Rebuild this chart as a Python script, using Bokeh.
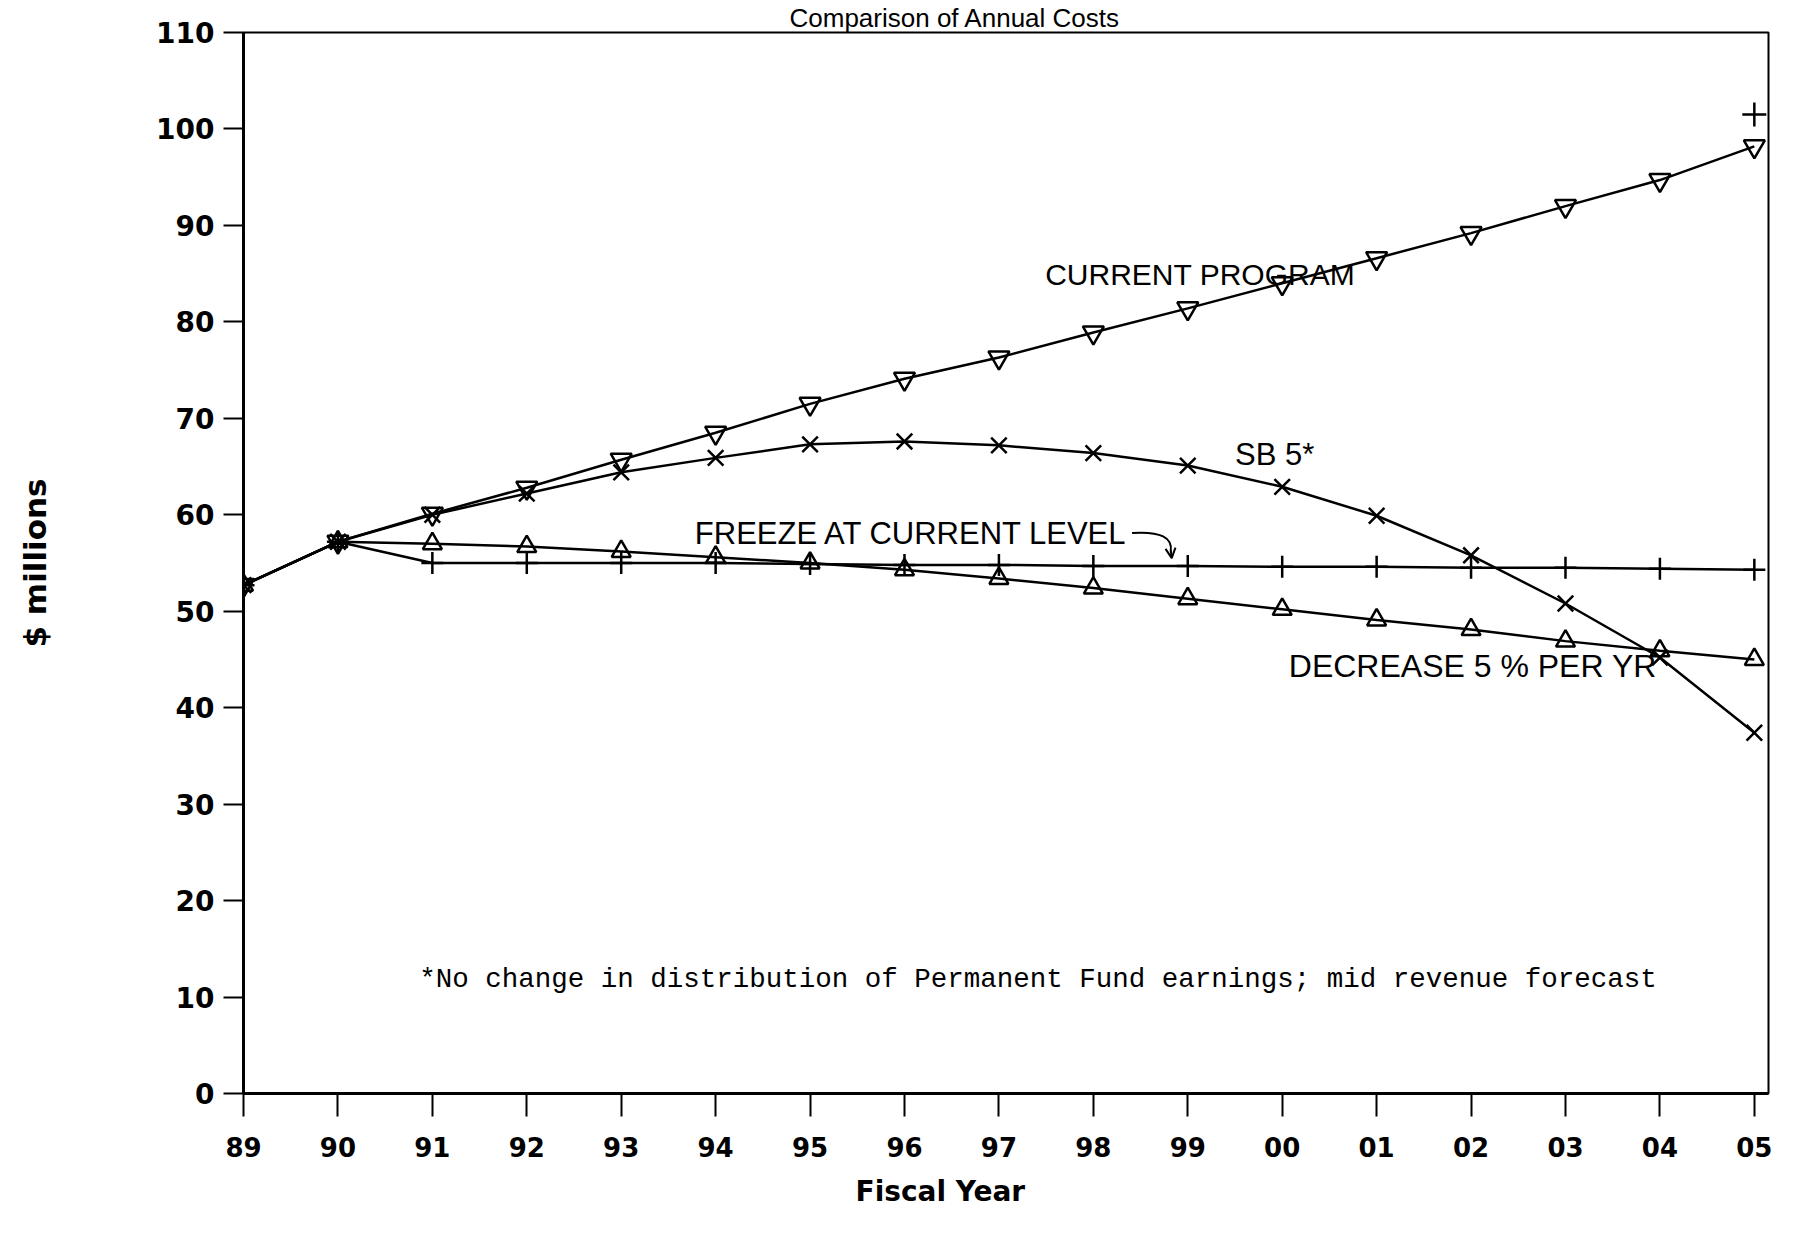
from bokeh.plotting import figure
from bokeh.models import Label, Arrow, OpenHead, FixedTicker, Range1d, Title
from bokeh.embed import file_html
from bokeh.resources import INLINE

# ---- data ----
years = list(range(1989, 2006))
year_labels = ["89", "90", "91", "92", "93", "94", "95", "96", "97", "98", "99",
               "00", "01", "02", "03", "04", "05"]
current_program = [52.7, 57.2, 60.1, 62.8, 65.7, 68.5, 71.5, 74.1, 76.3, 78.9, 81.4,
                   84.0, 86.6, 89.2, 92.0, 94.7, 98.2]
sb5 = [52.7, 57.2, 60.0, 62.2, 64.4, 65.9, 67.3, 67.6, 67.2, 66.4, 65.1,
       62.9, 59.9, 55.8, 50.8, 45.2, 37.4]
freeze = [52.7, 57.2, 55.0, 55.0, 55.0, 55.0, 54.9, 54.8, 54.8, 54.7, 54.7,
          54.6, 54.6, 54.5, 54.5, 54.4, 54.3]
decrease = [52.7, 57.2, 57.0, 56.7, 56.2, 55.6, 55.0, 54.3, 53.4, 52.4, 51.3,
            50.2, 49.1, 48.1, 46.9, 45.9, 45.0]
stray_x = [2005]
stray_y = [101.5]
y_ticks = list(range(0, 111, 10))

W, H = 1800, 1220
p = figure(width=W, height=H, output_backend="svg", toolbar_location=None,
           x_range=Range1d(1989, 2005.15), y_range=Range1d(0, 110),
           min_border_left=243, min_border_right=32, min_border_top=0,
           min_border_bottom=127)
p.background_fill_color = "white"
p.border_fill_color = "white"
p.outline_line_color = "black"
p.outline_line_width = 2
p.xgrid.visible = False
p.ygrid.visible = False

# chart title above the frame
p.title.text = "Comparison of Annual Costs"
p.title.align = "left"
p.title.offset = 546
p.title.text_font = "Liberation Sans"
p.title.text_font_size = "26px"
p.title.text_font_style = "normal"
p.title.text_color = "black"
p.title.standoff = 0

# axes
p.yaxis.ticker = FixedTicker(ticks=y_ticks)
p.xaxis.ticker = FixedTicker(ticks=years)
p.xaxis.major_label_overrides = {y: l for y, l in zip(years, year_labels)}
for ax in (p.xaxis, p.yaxis):
    ax.axis_line_width = 3
    ax.axis_line_color = "black"
    ax.major_tick_in = 0
    ax.minor_tick_line_color = None
    ax.major_tick_line_width = 2
    ax.major_label_text_font = "DejaVu Sans"
    ax.major_label_text_font_style = "bold"
    ax.major_label_text_color = "black"
    ax.axis_label_text_font = "DejaVu Sans"
    ax.axis_label_text_font_style = "bold"
    ax.axis_label_text_color = "black"
p.yaxis.major_label_text_font_size = "28px"
p.xaxis.major_label_text_font_size = "26px"
p.yaxis.major_tick_out = 20
p.yaxis.major_label_standoff = 9
p.yaxis.axis_label = "$ millions"
p.yaxis.axis_label_text_font_size = "31px"
p.yaxis.axis_label_standoff = 100
p.xaxis.major_tick_out = 23
p.xaxis.major_label_standoff = 20

# x-axis title, placed left of the frame centre as in the scan
p.add_layout(Title(text="Fiscal Year", align="left", offset=612,
                   text_font="DejaVu Sans", text_font_size="28px",
                   text_font_style="bold", text_color="black", standoff=26),
             "below")

# series lines
lw = 2.5
p.line(years, current_program, line_color="black", line_width=lw)
p.line(years, sb5, line_color="black", line_width=lw)
p.line(years, freeze, line_color="black", line_width=lw)
p.line(years, decrease, line_color="black", line_width=lw)

# markers
p.scatter(years, current_program, marker="inverted_triangle", size=21,
          fill_color="white", fill_alpha=0.0, line_color="black", line_width=2.5)
p.scatter(years, sb5, marker="x", size=22, line_color="black", line_width=2.5)
p.scatter(years, freeze, marker="cross", size=22, line_color="black", line_width=2.5)
p.scatter(years, decrease, marker="triangle", size=19,
          fill_color="white", fill_alpha=0.0, line_color="black", line_width=2.5)
p.scatter(stray_x, stray_y, marker="cross", size=24, line_color="black", line_width=2.5)

# annotations
ann_font = "Liberation Sans"
def add_text(x, y, t, size="31px", font=ann_font):
    p.add_layout(Label(x=x, y=y, text=t, text_font=font, text_font_size=size,
                       text_color="black", text_baseline="middle", text_align="left"))

add_text(1997.49, 84.9, "CURRENT PROGRAM", size="30px")
add_text(1999.5, 66.2, "SB 5*")
add_text(1993.78, 58.1, "FREEZE AT CURRENT LEVEL")
add_text(2000.07, 44.3, "DECREASE 5 % PER YR", size="32px")
add_text(1990.86, 11.8,
         "*No change in distribution of Permanent Fund earnings; mid revenue forecast",
         size="27.5px", font="Liberation Mono")

# curved arrow from FREEZE label to the freeze line
p.bezier(x0=[1998.41], y0=[58.1], x1=[1998.82], y1=[56.2],
         cx0=[1998.72], cy0=[58.3], cx1=[1998.84], cy1=[57.6],
         line_color="black", line_width=2)
p.add_layout(Arrow(end=OpenHead(size=10, line_width=2, line_color="black"),
                   x_start=1998.82, y_start=56.3, x_end=1998.83, y_end=55.5,
                   line_color="black", line_width=2))

open("out.html", "w").write(file_html(p, INLINE))
